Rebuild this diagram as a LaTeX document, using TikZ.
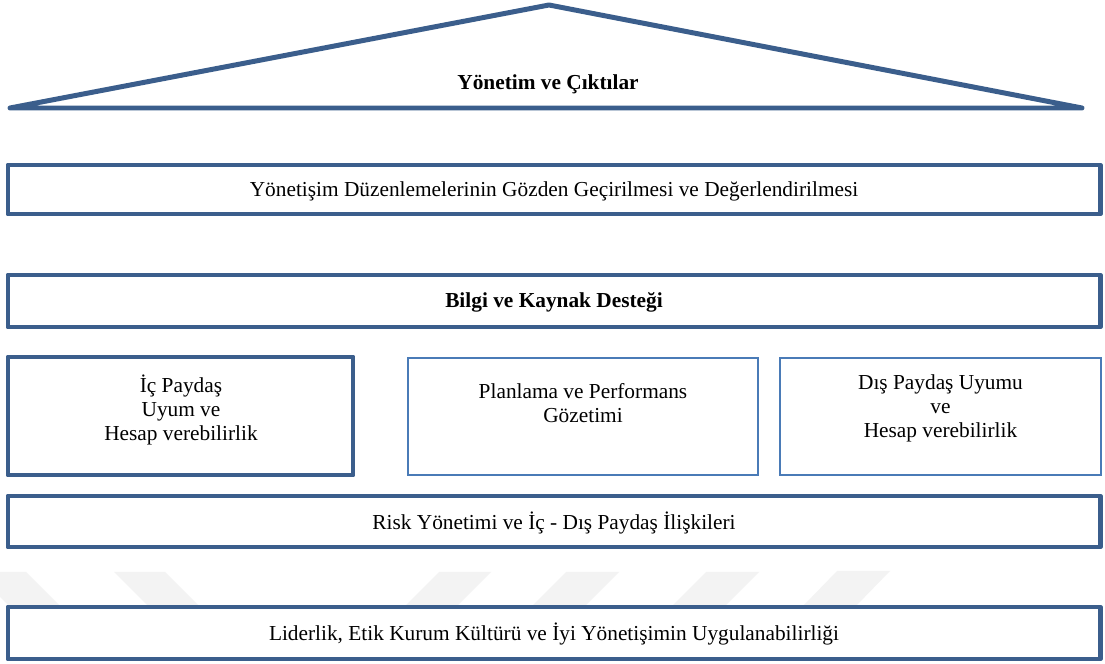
\documentclass[tikz,border=0pt]{standalone}
\usepackage{fontspec}
\setmainfont{Liberation Serif}
\usetikzlibrary{fit}
\definecolor{darkblue}{HTML}{3B5E8C}
\definecolor{lightblue}{HTML}{4A7BB7}
\definecolor{wmgray}{HTML}{F3F3F3}
\tikzset{
  thickbox/.style={draw=darkblue, line width=2.8pt, line join=round, fill=white, inner sep=0pt},
  thinbox/.style={draw=lightblue, line width=1.4pt, fill=white, inner sep=0pt},
  txt/.style={font=\fontsize{12}{13.5}\selectfont, align=center, inner sep=0pt},
  btxt/.style={txt, font=\fontsize{12}{13.5}\selectfont\bfseries},
  roofline/.style={draw=darkblue, line width=2.8pt, line join=round, line cap=round},
  wmark/.style={fill=wmgray, draw=none}
}
\begin{document}
\begin{tikzpicture}[x=0.5625pt,y=-0.5625pt]
\useasboundingbox[fill=white] (0,0) rectangle (1105,664);
% faint watermark
\fill[wmark] (0,572) -- (26,572) -- (60,606) -- (9,606) -- (0,597) -- cycle;
\fill[wmark] (114,572) -- (165,572) -- (199,606) -- (148,606) -- cycle;
\fill[wmark] (439,572) -- (491,572) -- (457,606) -- (405,606) -- cycle;
\fill[wmark] (566,572) -- (619,572) -- (585,606) -- (532,606) -- cycle;
\fill[wmark] (706,572) -- (759,572) -- (725,606) -- (672,606) -- cycle;
\fill[wmark] (837,571) -- (890,571) -- (856,606) -- (803,606) -- cycle;
% roof
\coordinate (rl) at (10,108);
\coordinate (ra) at (549,5);
\coordinate (rr) at (1082,108);
\draw[roofline] (rl) -- (ra) -- (rr) -- cycle;
\node[btxt] (roof) at (548,84.5) {Yönetim ve Çıktılar};
% corner coordinates
\coordinate (b1a) at (8,165);   \coordinate (b1b) at (1100,214);
\coordinate (b2a) at (8,275);   \coordinate (b2b) at (1100,327);
\coordinate (b3a) at (8,357);   \coordinate (b3b) at (353,475);
\coordinate (b4a) at (408,358); \coordinate (b4b) at (758,475);
\coordinate (b5a) at (780,358); \coordinate (b5b) at (1101,475);
\coordinate (b6a) at (8,496);   \coordinate (b6b) at (1100,547);
\coordinate (b7a) at (8,607);   \coordinate (b7b) at (1100,659);
% full-width boxes
\node[thickbox, fit=(b1a)(b1b)] (b1) {};
\node[txt] (t1) at ([yshift=-1.2pt]b1.center) {Yönetişim Düzenlemelerinin Gözden Geçirilmesi ve Değerlendirilmesi};
\node[thickbox, fit=(b2a)(b2b)] (b2) {};
\node[btxt] (t2) at ([yshift=-0.6pt]b2.center) {Bilgi ve Kaynak Desteği};
% three boxes
\node[thickbox, fit=(b3a)(b3b)] (b3) {};
\node[txt] (t3) at (181,410) {İç Paydaş\\Uyum ve\\Hesap verebilirlik};
\node[thinbox, fit=(b4a)(b4b)] (b4) {};
\node[txt] (t4) at (583,403.5) {Planlama ve Performans\\Gözetimi};
\node[thinbox, fit=(b5a)(b5b)] (b5) {};
\node[txt] (t5) at (940.5,408) {Dış Paydaş Uyumu\\ve\\Hesap verebilirlik};
% lower boxes
\node[thickbox, fit=(b6a)(b6b)] (b6) {};
\node[txt] (t6) at ([yshift=-0.6pt]b6.center) {Risk Yönetimi ve İç - Dış Paydaş İlişkileri};
\node[thickbox, fit=(b7a)(b7b)] (b7) {};
\node[txt] (t7) at ([yshift=-0.6pt]b7.center) {Liderlik, Etik Kurum Kültürü ve İyi Yönetişimin Uygulanabilirliği};
\end{tikzpicture}
\end{document}
